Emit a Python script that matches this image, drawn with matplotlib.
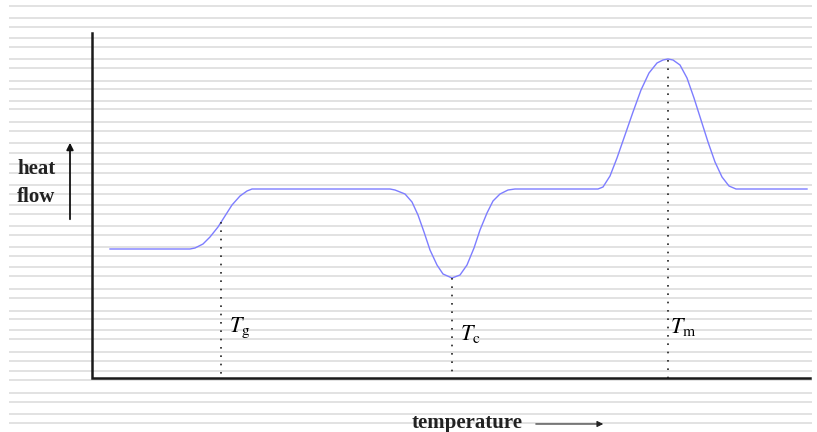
############################ DSC thermogram sketch ############################
import matplotlib.pyplot as plt

plt.rcParams['mathtext.fontset'] = 'stix'

# curve (pixel units, y grows downwards)
temp = [110, 190, 195, 203, 210, 218, 225, 232, 240, 247, 252, 390,
        395, 405, 412, 418, 424, 430, 437, 443, 452, 460, 467, 474, 480,
        487, 493, 500, 508, 515, 598,
        603, 610, 617, 625, 633, 641, 649, 657, 663, 668, 673, 680, 687,
        694, 701, 708, 715, 722, 729, 736, 807]
heat = [249, 249, 248, 244, 237, 227, 216, 205, 196, 191, 189, 189,
        190, 194, 202, 215, 232, 250, 265, 274, 278, 275, 265, 248, 230,
        213, 201, 194, 190, 189, 189,
        187, 176, 158, 135, 112, 90, 73, 63, 60, 59, 60, 65, 78,
        98, 120, 142, 162, 177, 186, 189, 189]

# transitions: label, temperature, heat flow at the mark, label spot
marks = [r'$T_{\mathrm{g}}$', r'$T_{\mathrm{c}}$', r'$T_{\mathrm{m}}$']
mark_x = [221, 452, 668]
mark_y = [222, 278, 60]
label_dx = [8, 8, 2]
label_y = [332, 340, 333]

# ruled background lines
rules = [6, 18, 27, 38, 47, 59, 68, 81, 89, 101, 109, 122, 131, 143, 153,
         164, 173, 185, 194, 205, 214, 226, 235, 247, 256, 267, 276, 289,
         298, 311, 319, 330, 339, 352, 361, 371, 380, 393, 402, 414, 423]

fig = plt.figure(figsize=(8.17, 4.32), dpi=100)
ax = fig.add_axes([0, 0, 1, 1])
ax.set_xlim(0, 817)
ax.set_ylim(432, 0)
ax.axis('off')

ax.hlines(rules, 9, 812, color='#dadada', lw=1.1, zorder=0)

# axes
ax.plot([92, 92, 810], [33, 378, 378], color='#1a1a1a', lw=1.8,
        solid_joinstyle='miter', zorder=3)

ax.plot(temp, heat, color='#7d7dff', lw=1.0, zorder=2)

for lab, x, y, dx, ly in zip(marks, mark_x, mark_y, label_dx, label_y):
    ax.plot([x, x], [y, 378], color='#222222', lw=1.2,
            linestyle=(0, (1, 4)), zorder=2)
    ax.text(x + dx, ly, lab, fontsize=16, ha='left', va='baseline')

# axis captions
ax.text(17, 174, 'heat', fontsize=15, fontweight='bold',
        family='Liberation Serif', va='baseline', color='#222222')
ax.text(17, 202, 'flow', fontsize=15, fontweight='bold',
        family='Liberation Serif', va='baseline', color='#222222')
ax.annotate('', xy=(70, 140), xytext=(70, 222),
            arrowprops=dict(arrowstyle='-|>', color='#111111', lw=1.3,
                            mutation_scale=10))
ax.text(412, 428, 'temperature', fontsize=15, fontweight='bold',
        family='Liberation Serif', va='baseline', color='#222222')
ax.annotate('', xy=(606, 424), xytext=(533, 424),
            arrowprops=dict(arrowstyle='-|>', color='#222222', lw=0.8,
                            mutation_scale=9))

fig.savefig('out.png', dpi=100)
